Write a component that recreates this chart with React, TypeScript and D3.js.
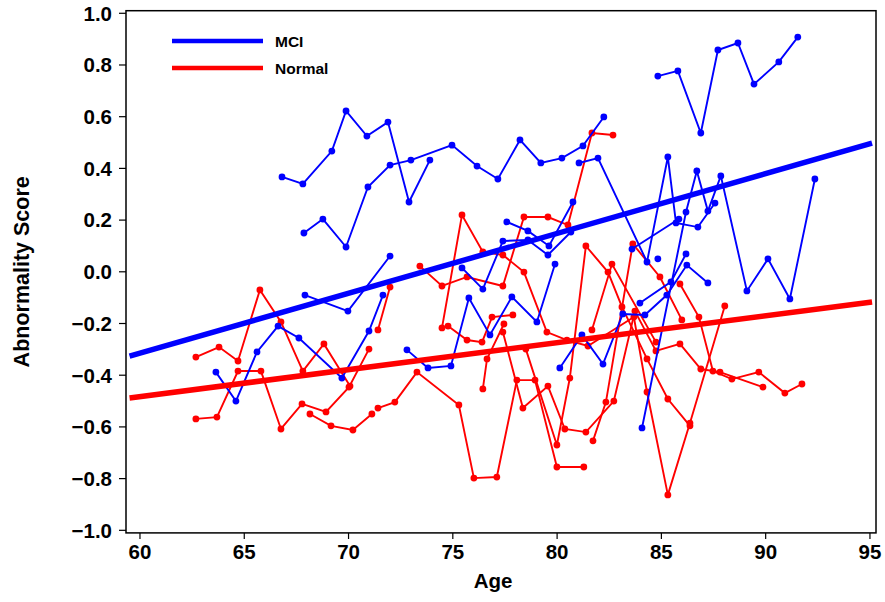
import React from "react";
import * as d3 from "d3";

const xTicks = [60, 65, 70, 75, 80, 85, 90, 95];
const yTicks = [-1.0, -0.8, -0.6, -0.4, -0.2, 0.0, 0.2, 0.4, 0.6, 0.8, 1.0];

const mciFit: [number, number][] = [[59.5, -0.326], [95.1, 0.498]];
const normalFit: [number, number][] = [[59.5, -0.488], [95.1, -0.117]];

const mciSubjects: [number, number][][] = [
  [[66.81, 0.367], [67.81, 0.34], [69.2, 0.467], [69.88, 0.622], [70.88, 0.525], [71.89, 0.579], [72.9, 0.27], [73.9, 0.432]],
  [[67.86, 0.15], [68.77, 0.204], [69.88, 0.096], [70.93, 0.328], [71.99, 0.413], [72.99, 0.432], [74.96, 0.49], [76.16, 0.409], [77.16, 0.359], [78.22, 0.51], [79.22, 0.421], [80.23, 0.44], [81.24, 0.487], [82.24, 0.599]],
  [[84.83, 0.757], [85.79, 0.777], [86.89, 0.537], [87.71, 0.858], [88.67, 0.885], [89.44, 0.726], [90.63, 0.812], [91.54, 0.908]],
  [[63.64, -0.388], [64.6, -0.5], [65.61, -0.31], [66.62, -0.21], [67.62, -0.256], [69.68, -0.411], [70.98, -0.229], [71.65, -0.09]],
  [[67.91, -0.09], [69.97, -0.152], [71.99, 0.061]],
  [[72.8, -0.302], [73.81, -0.372], [74.91, -0.364], [75.77, -0.101], [76.78, -0.244], [77.83, -0.097], [79.03, -0.194], [79.9, 0.03]],
  [[77.59, 0.193], [78.6, 0.158], [79.61, 0.1], [80.76, 0.27]],
  [[75.44, 0.015], [76.44, -0.067], [77.4, 0.119], [78.6, 0.123], [79.56, 0.065], [80.66, 0.154]],
  [[80.13, -0.372], [81.19, -0.244], [82.2, -0.357], [83.15, -0.163], [84.21, -0.167], [85.26, -0.09], [86.22, 0.026], [87.23, -0.043]],
  [[84.07, -0.604], [86.18, 0.231], [86.7, 0.39], [87.23, 0.235], [87.85, 0.371], [89.1, -0.074], [90.11, 0.05], [91.16, -0.105], [92.36, 0.359]],
  [[81.05, 0.421], [81.96, 0.44], [84.31, 0.038], [85.31, 0.444], [85.7, 0.189], [86.75, 0.173], [87.57, 0.266]],
  [[83.59, 0.088], [85.84, 0.204]],
  [[83.97, -0.121], [85.46, -0.039], [86.18, 0.069]],
  [[84.83, 0.05]],
];

const normalSubjects: [number, number][][] = [
  [[62.68, -0.33], [63.79, -0.291], [64.7, -0.345], [65.75, -0.07], [66.76, -0.194], [67.81, -0.384], [68.82, -0.279], [70.07, -0.442]],
  [[62.68, -0.569], [63.69, -0.562], [64.7, -0.384], [65.8, -0.384], [66.76, -0.608], [67.77, -0.511], [68.92, -0.542], [70.02, -0.446], [70.98, -0.299]],
  [[68.15, -0.55], [69.16, -0.596], [70.21, -0.612], [71.12, -0.55]],
  [[71.41, -0.225], [71.99, -0.059]],
  [[71.41, -0.527], [72.22, -0.504], [73.28, -0.388], [75.29, -0.515], [76.01, -0.798], [77.11, -0.794], [78.07, -0.419], [78.94, -0.419], [79.99, -0.755], [81.28, -0.755]],
  [[73.42, 0.022], [74.48, -0.055], [75.68, -0.02], [77.4, -0.055], [78.41, 0.212], [79.56, 0.212], [80.52, 0.181], [81.67, 0.537], [82.68, 0.529]],
  [[74.48, -0.217], [75.44, 0.22], [76.44, 0.077], [77.4, 0.065], [78.41, -0.001], [79.51, -0.233], [80.47, -0.264], [81.48, -0.287], [83.68, -0.175], [84.31, -0.465], [85.31, -0.863], [86.37, -0.585], [88.04, -0.132]],
  [[77.4, -0.233], [78.36, -0.527], [79.56, -0.442], [80.37, -0.608], [81.38, -0.62], [82.72, -0.5], [83.73, -0.152], [84.74, -0.306], [85.89, -0.279], [86.89, -0.376], [87.81, -0.388], [89.87, -0.446]],
  [[78.5, -0.299], [79.99, -0.67], [80.61, -0.411], [81.38, 0.1], [82.44, -0.001], [83.11, -0.136], [84.31, -0.337], [85.31, -0.492], [86.37, -0.596]],
  [[81.72, -0.654], [82.34, -0.504], [83.63, 0.108], [84.93, -0.02], [85.98, -0.186]],
  [[81.67, -0.225], [82.63, 0.03], [84.74, -0.272]],
  [[85.89, -0.047], [86.8, -0.175], [87.47, -0.384], [88.38, -0.415], [89.67, -0.388], [90.92, -0.469], [91.74, -0.434]],
  [[74.77, -0.21], [75.68, -0.264], [76.4, -0.272], [76.88, -0.175], [77.88, -0.167]],
  [[76.44, -0.453], [76.64, -0.337], [77.45, -0.202]],
];

const W = 885;
const H = 602;
const BLUE = "#0000ff";
const RED = "#ff0000";

export default function App() {
  const x = d3.scaleLinear().domain([59.33, 95.29]).range([126, 876]);
  const y = d3.scaleLinear().domain([-1.01, 1.01]).range([532.9, 10.7]);
  const line = d3
    .line<[number, number]>()
    .x((d) => x(d[0]))
    .y((d) => y(d[1]));
  const fmt = (v: number) => d3.format(".1f")(v).replace("-", "\u2212");
  const font = "'Liberation Sans', Arial, Helvetica, sans-serif";

  const group = (data: [number, number][][], color: string, key: string) =>
    data.map((s, i) => (
      <g key={key + i}>
        <path d={line(s) || ""} fill="none" stroke={color} strokeWidth={1.9} />
        {s.map((p, j) => (
          <circle key={j} cx={x(p[0])} cy={y(p[1])} r={3.4} fill={color} />
        ))}
      </g>
    ));

  return (
    <svg
      width={W}
      height={H}
      style={{ position: "absolute", left: 0, top: 0, background: "#fff" }}
      fontFamily={font}
    >
      <rect x={0} y={0} width={W} height={H} fill="#fff" />
      {group(normalSubjects, RED, "n")}
      {group(mciSubjects, BLUE, "m")}
      <path d={line(mciFit) || ""} stroke={BLUE} strokeWidth={5.5} fill="none" />
      <path d={line(normalFit) || ""} stroke={RED} strokeWidth={5.5} fill="none" />
      <rect x={126} y={10.7} width={750} height={522.2} fill="none" stroke="#000" strokeWidth={1.5} />
      {yTicks.map((t) => (
        <g key={"y" + t}>
          <line x1={119} x2={126} y1={y(t)} y2={y(t)} stroke="#000" strokeWidth={1.2} />
          <text x={112} y={y(t)} dy="0.36em" textAnchor="end" fontSize={20.5} fontWeight="bold">
            {fmt(t)}
          </text>
        </g>
      ))}
      {xTicks.map((t) => (
        <g key={"x" + t}>
          <line x1={x(t)} x2={x(t)} y1={532.9} y2={539} stroke="#000" strokeWidth={1.2} />
          <text x={x(t)} y={558.5} textAnchor="middle" fontSize={20.5} fontWeight="bold">
            {t}
          </text>
        </g>
      ))}
      <text x={493} y={588} textAnchor="middle" fontSize={20.5} fontWeight="bold">
        Age
      </text>
      <text
        transform={`translate(29,${y(0)}) rotate(-90)`}
        textAnchor="middle"
        fontSize={21.5}
        fontWeight="bold"
      >
        Abnormality Score
      </text>
      <line x1={172} x2={263} y1={41} y2={41} stroke={BLUE} strokeWidth={4.5} />
      <text x={275} y={41} dy="0.36em" fontSize={15.5} fontWeight="bold">
        MCI
      </text>
      <line x1={172} x2={263} y1={68} y2={68} stroke={RED} strokeWidth={4.5} />
      <text x={275} y={68} dy="0.36em" fontSize={15.5} fontWeight="bold">
        Normal
      </text>
    </svg>
  );
}
